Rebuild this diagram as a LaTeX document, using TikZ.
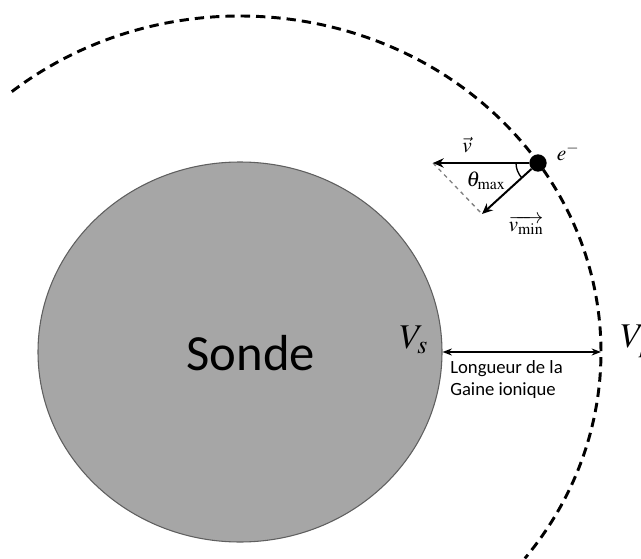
\documentclass[tikz,border=0pt]{standalone}
\usepackage{mathptmx}
\usepackage[no-math]{fontspec}
\newfontfamily\calibri{Carlito}
\usetikzlibrary{shapes.geometric,arrows.meta}

\definecolor{sondegris}{RGB}{166,166,166}
\definecolor{bordgris}{RGB}{95,95,95}

\tikzset{
  vecteur/.style={line width=1.5pt,-{Stealth[length=8pt,width=7pt]}},
  gaine/.style={line width=2.2pt,dash pattern=on 7pt off 4.5pt},
  grandV/.style={anchor=base west,font=\fontsize{26}{28}\selectfont},
  petit/.style={font=\fontsize{16}{18}\selectfont}
}

\begin{document}
\begin{tikzpicture}[x=0.75pt,y=-0.75pt]

\useasboundingbox (0,0) rectangle (641,559);

\node [ellipse, fill=sondegris, draw=bordgris, line width=0.8pt, inner sep=0,
       minimum width=303pt, minimum height=285pt] (sonde) at (240,352) {};
\node [anchor=base west, font=\calibri\fontsize{38}{40}\selectfont] (nom) at (182,370) {Sonde};

\draw [gaine] (240,352) ++(-129.2:361 and 336)
      arc [start angle=-129.2, end angle=37.9, x radius=361, y radius=336];
\coordinate (bord) at (601,352);

\node [grandV] (vs) at (395,348) {$V_s$};
\node [grandV] (vp) at (616,347) {$V_p$};

\draw [line width=1.2pt, {Stealth[length=7pt]}-{Stealth[length=7pt]}] (sonde.east) -- (bord);
\node [anchor=north west, align=left, inner sep=0,
       font=\calibri\fontsize{14}{16.5}\selectfont] (longueur) at (450,360)
      {Longueur de la\\Gaine ionique};

\node [circle, fill=black, inner sep=0, minimum size=13pt] (e) at (538,163) {};
\coordinate (vtip) at (433,163);
\coordinate (vmintip) at (482,214);
\draw [gray, dashed, line width=1pt] (vtip) -- (vmintip);
\draw [vecteur] (e) -- (vtip);
\draw [vecteur] (e) -- (vmintip);
\draw [line width=1pt] (e.center) ++(180:22) arc [start angle=180, end angle=137.7, radius=22];

\node [petit] (vlab) at (467,145) {$\vec{v}$};
\node [petit] (elab) at (568,152) {$e^-$};
\node [petit] (theta) at (486,181) {$\theta_{\max}$};
\node [petit] (vminlab) at (526,225) {$\overrightarrow{v_{\min}}$};

\end{tikzpicture}
\end{document}
